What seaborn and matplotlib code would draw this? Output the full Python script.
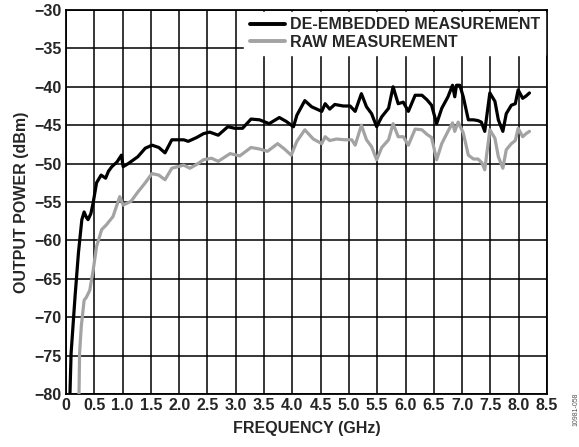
import numpy as np
import pandas as pd
import matplotlib
matplotlib.use("Agg")
import matplotlib.pyplot as plt
import seaborn as sns

# --- values ---
freq_deemb = [0.07, 0.09, 0.16, 0.22, 0.28, 0.32, 0.36, 0.39, 0.44, 0.48, 0.54, 0.62, 0.70,
              0.75, 0.81, 0.90, 0.98, 1.01, 1.10, 1.27, 1.40, 1.52, 1.64, 1.75, 1.87, 2.08,
              2.16, 2.31, 2.43, 2.54, 2.69, 2.86, 2.98, 3.12, 3.27, 3.42, 3.59, 3.77, 3.89,
              4.02, 4.08, 4.22, 4.34, 4.46, 4.52, 4.58, 4.66, 4.75, 4.90, 5.02, 5.11, 5.22,
              5.31, 5.40, 5.49, 5.58, 5.70, 5.78, 5.87, 5.96, 6.05, 6.17, 6.29, 6.38, 6.46,
              6.55, 6.64, 6.75, 6.83, 6.87, 6.90, 6.96, 7.02, 7.11, 7.20, 7.28, 7.34, 7.40,
              7.49, 7.58, 7.64, 7.72, 7.78, 7.87, 7.94, 7.99, 8.07, 8.13, 8.19]
pwr_deemb = [-80.0, -74.7, -67.3, -61.6, -57.3, -56.3, -57.0, -57.3, -56.5, -55.1, -52.5, -51.5, -51.9,
             -51.0, -50.4, -49.8, -48.9, -50.4, -50.0, -49.1, -48.0, -47.6, -47.9, -48.6, -46.9, -46.9,
             -47.1, -46.6, -46.1, -45.9, -46.3, -45.2, -45.4, -45.4, -44.2, -44.3, -44.8, -44.0, -44.5,
             -45.2, -43.7, -41.8, -42.6, -43.0, -43.2, -42.2, -42.9, -42.3, -42.5, -42.5, -43.2, -40.9,
             -42.6, -43.5, -45.2, -43.9, -42.8, -40.0, -42.2, -42.0, -43.2, -41.1, -41.1, -41.7, -42.4,
             -44.8, -42.8, -41.3, -39.8, -41.3, -39.8, -39.8, -41.3, -44.3, -44.3, -44.4, -44.6, -45.8,
             -40.8, -41.9, -44.3, -45.8, -43.5, -42.4, -42.2, -40.4, -41.5, -41.2, -40.8]

freq_raw = [0.23, 0.24, 0.27, 0.32, 0.36, 0.42, 0.48, 0.54, 0.63, 0.71, 0.83, 0.95, 1.01,
            1.15, 1.27, 1.39, 1.52, 1.64, 1.75, 1.87, 2.08, 2.19, 2.31, 2.43, 2.57, 2.69,
            2.90, 3.07, 3.27, 3.42, 3.56, 3.74, 3.86, 3.98, 4.08, 4.22, 4.37, 4.52, 4.58,
            4.66, 4.78, 4.93, 5.05, 5.11, 5.22, 5.31, 5.40, 5.49, 5.58, 5.70, 5.78, 5.87,
            5.96, 6.05, 6.17, 6.29, 6.38, 6.46, 6.55, 6.64, 6.75, 6.83, 6.87, 6.93, 7.02,
            7.11, 7.20, 7.28, 7.35, 7.40, 7.49, 7.58, 7.64, 7.72, 7.78, 7.87, 7.94, 7.99,
            8.07, 8.13, 8.19]
pwr_raw = [-80.0, -74.7, -71.2, -67.8, -67.4, -66.5, -63.9, -60.8, -58.6, -58.0, -56.9, -54.3, -55.4,
           -54.9, -53.7, -52.6, -51.3, -51.5, -52.1, -50.6, -50.2, -50.6, -50.1, -49.5, -49.3, -49.7,
           -48.7, -49.0, -47.9, -48.1, -48.4, -47.4, -48.1, -48.9, -47.1, -45.6, -46.8, -47.4, -46.5,
           -47.0, -46.8, -46.9, -46.9, -47.6, -45.0, -46.9, -47.8, -49.5, -47.9, -46.9, -44.8, -46.5,
           -46.5, -47.6, -45.5, -45.6, -46.2, -46.6, -49.5, -47.4, -45.8, -44.7, -45.8, -44.6, -46.0,
           -48.9, -49.4, -49.4, -49.9, -50.8, -45.6, -46.7, -49.1, -50.6, -48.2, -47.4, -47.0, -45.4,
           -46.5, -46.1, -45.8]

series_names = ["DE-EMBEDDED MEASUREMENT", "RAW MEASUREMENT"]
x_ticks = np.arange(0, 8.51, 0.5)
x_ticklabels = ["0"] + [f"{t:.1f}" for t in x_ticks[1:]]
y_ticks = np.arange(-80, -29, 5)
y_ticklabels = [f"\u2212{abs(t)}" for t in y_ticks]

df = pd.concat([
    pd.DataFrame({"freq": freq_deemb, "power": pwr_deemb, "series": series_names[0]}),
    pd.DataFrame({"freq": freq_raw, "power": pwr_raw, "series": series_names[1]}),
], ignore_index=True)

sns.set_style("white")
plt.rcParams["font.family"] = ["Liberation Sans", "DejaVu Sans"]
plt.rcParams["font.weight"] = "bold"

FS = 11.5

fig = plt.figure(figsize=(5.79, 4.47), dpi=100)
ax = fig.add_axes([66 / 579, 1 - 394 / 447, 481 / 579, 384 / 447])

sns.lineplot(data=df, x="freq", y="power", hue="series", hue_order=series_names,
             palette=["#000000", "#a3a3a3"], sort=False, estimator=None,
             linewidth=2.3, ax=ax, zorder=3)

ax.set_xlim(0, 8.5)
ax.set_ylim(-80, -30)
ax.set_xticks(x_ticks)
ax.set_xticklabels(x_ticklabels, fontsize=FS, fontweight="bold")
ax.set_yticks(y_ticks)
ax.set_yticklabels(y_ticklabels, fontsize=FS, fontweight="bold")
ax.tick_params(length=0, pad=3)
ax.grid(True, color="black", linewidth=1.1)
for sp in ax.spines.values():
    sp.set_color("black")
    sp.set_linewidth(1.3)

ax.set_xlabel("FREQUENCY (GHz)", fontsize=FS, fontweight="bold", labelpad=6)
ax.set_ylabel("OUTPUT POWER (dBm)", fontsize=FS, fontweight="bold", labelpad=4)

leg = ax.legend(loc="upper right", frameon=True, facecolor="white", edgecolor="white",
                framealpha=1, fancybox=False, borderaxespad=0.1, handlelength=2.2,
                handletextpad=0.3, labelspacing=0.15, borderpad=0.35,
                prop={"size": FS, "weight": "bold"})
leg.set_zorder(5)
for line in leg.get_lines():
    line.set_linewidth(2.8)

fig.text(0.994, 1 - 393 / 447, "10981-058", rotation=90, ha="center", va="top",
         fontsize=5, color="#555555", fontweight="normal")

fig.savefig("out.png", dpi=100)
